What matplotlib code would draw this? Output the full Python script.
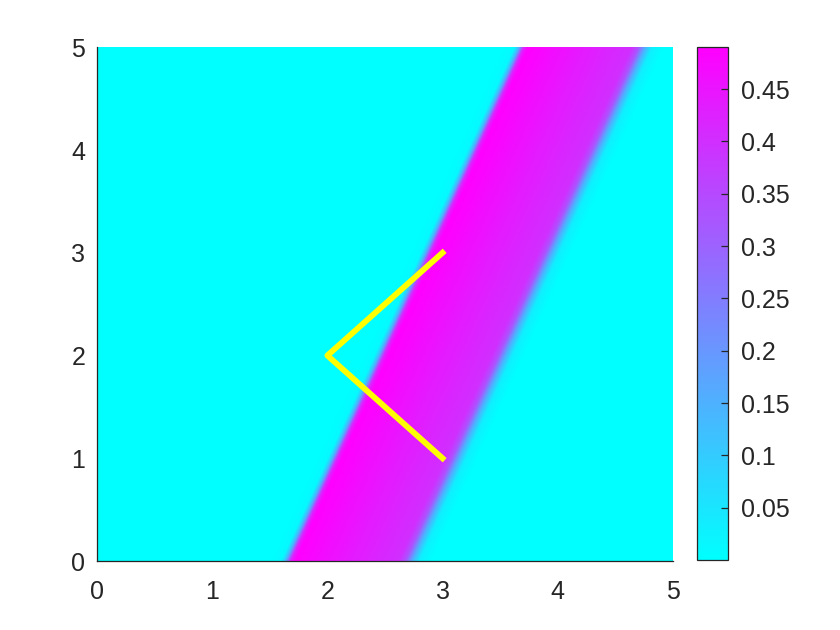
import matplotlib
matplotlib.use("Agg")
import matplotlib.pyplot as plt
import numpy as np

# band profile across the stripe, measured along u = x - SLOPE * y
SLOPE = 0.405
band_u = [1.50, 1.60, 1.64, 1.68, 1.72, 2.20, 2.62, 2.68, 2.74, 2.80, 2.90]
band_val = [0.0, 0.01, 0.15, 0.42, 0.49, 0.44, 0.40, 0.33, 0.15, 0.03, 0.0]

# yellow polyline
path_x = [3, 2, 3]
path_y = [3, 2, 1]

xticks = [0, 1, 2, 3, 4, 5]
yticks = [0, 1, 2, 3, 4, 5]
cbar_ticks = [0.05, 0.1, 0.15, 0.2, 0.25, 0.3, 0.35, 0.4, 0.45]
cbar_labels = ["0.05", "0.1", "0.15", "0.2", "0.25", "0.3", "0.35", "0.4", "0.45"]

plt.rcParams["font.family"] = ["Liberation Sans", "DejaVu Sans"]
plt.rcParams["font.size"] = 18
text_color = "#262626"

n = 400
xs = np.linspace(0, 5, n)
ys = np.linspace(0, 5, n)
X, Y = np.meshgrid(xs, ys)
Z = np.interp(X - SLOPE * Y, band_u, band_val)

fig = plt.figure(figsize=(8.4, 6.3), dpi=100)
ax = fig.add_axes([0.1155, 0.1095, 0.6855, 0.8155])
im = ax.imshow(Z, extent=[0, 5, 0, 5], origin="lower", cmap="cool",
               vmin=0.0, vmax=0.49, aspect="auto", interpolation="bilinear")
ax.plot(path_x, path_y, color="#ffff00", lw=4.2, solid_joinstyle="round")

ax.set_xlim(0, 5)
ax.set_ylim(0, 5)
ax.set_xticks(xticks)
ax.set_yticks(yticks)
ax.tick_params(axis="x", length=0, pad=14, colors=text_color)
ax.tick_params(axis="y", length=0, pad=8.5, colors=text_color)
for side in ["top", "right"]:
    ax.spines[side].set_visible(False)
for side in ["left", "bottom"]:
    ax.spines[side].set_color(text_color)
    ax.spines[side].set_linewidth(0.9)

cax = fig.add_axes([0.830, 0.111, 0.037, 0.814])
cb = fig.colorbar(im, cax=cax)
cb.set_ticks(cbar_ticks)
cb.set_ticklabels(cbar_labels)
cb.ax.tick_params(direction="in", length=5, width=0.9, pad=9, colors=text_color)
cb.outline.set_edgecolor(text_color)
cb.outline.set_linewidth(0.9)

fig.savefig("out.png", dpi=100)
